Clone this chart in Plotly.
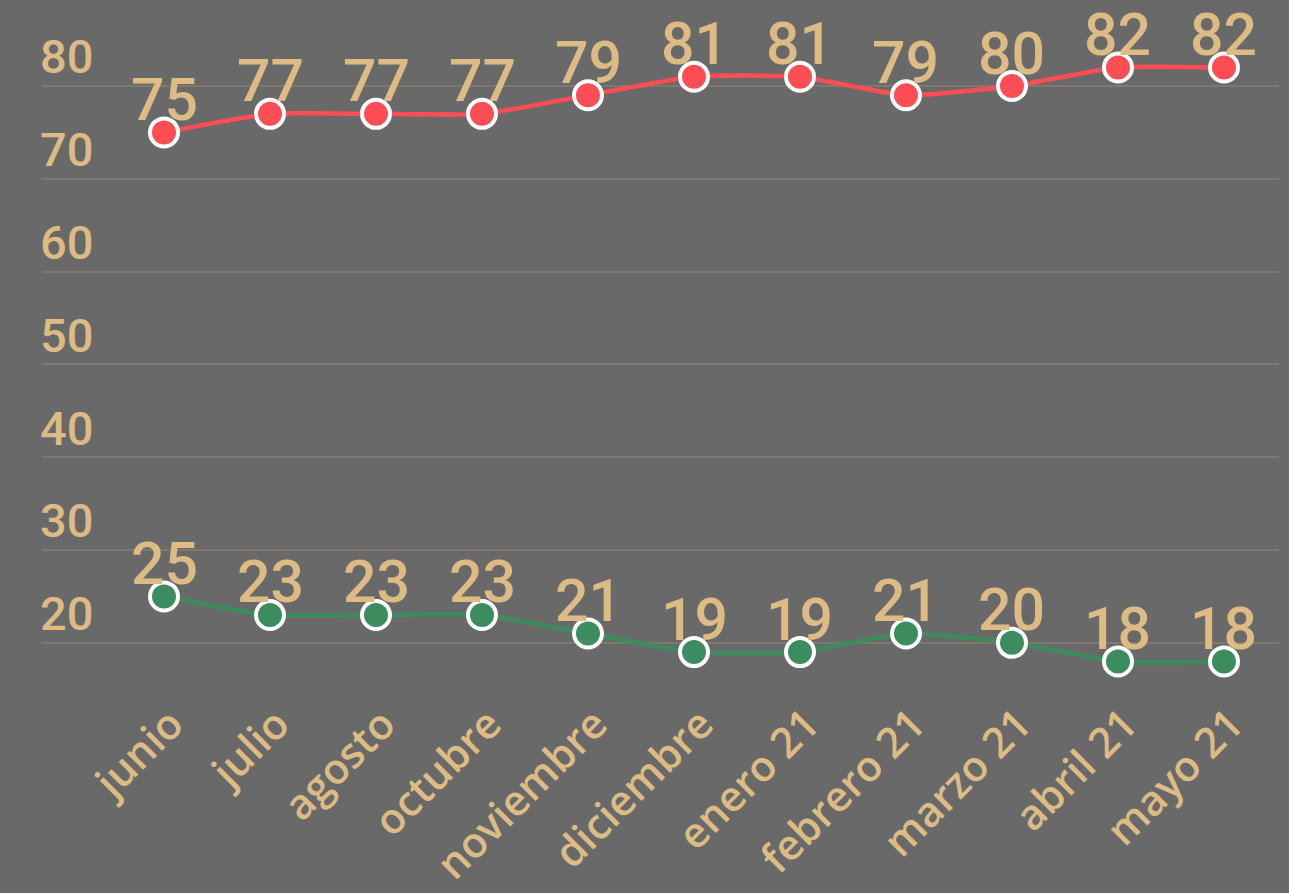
import plotly.graph_objects as go

months = ["junio", "julio", "agosto", "octubre", "noviembre", "diciembre",
          "enero 21", "febrero 21", "marzo 21", "abril 21", "mayo 21"]
red_values = [75, 77, 77, 77, 79, 81, 81, 79, 80, 82, 82]
green_values = [25, 23, 23, 23, 21, 19, 19, 21, 20, 18, 18]
y_ticks = [20, 30, 40, 50, 60, 70, 80]

BG = "#696969"
TAN = "#dcbb85"
GRID = "#80786b"
RED = "#ff4d55"
GREEN = "#3d8c5f"

fig = go.Figure()
for vals, col in [(red_values, RED), (green_values, GREEN)]:
    fig.add_trace(go.Scatter(
        x=list(range(len(months))), y=vals, mode="lines+markers",
        line=dict(color=col, width=4.5, shape="spline", smoothing=0.5),
        marker=dict(size=28, color=col, line=dict(color="white", width=4)),
        hoverinfo="skip", showlegend=False,
    ))
    for i, v in enumerate(vals):
        fig.add_annotation(x=i, y=v, text=str(v), showarrow=False,
                           yanchor="middle", yshift=33,
                           font=dict(family="Roboto", size=59, color=TAN,
                                     weight=500))

fig.update_layout(
    width=1289, height=893,
    paper_bgcolor=BG, plot_bgcolor=BG,
    margin=dict(l=42, r=10, t=0, b=193),
    xaxis=dict(
        range=[-1.151, 10.519], tickmode="array",
        tickvals=list(range(len(months))), ticktext=months,
        tickangle=-45, showgrid=False, zeroline=False, showline=False,
        ticklabelshift=7, ticklabelstandoff=-10, automargin=False,
        tickfont=dict(family="Open Sans", size=42, color=TAN, weight=600),
    ),
    yaxis=dict(
        range=[13.84, 89.27], tickmode="array", tickvals=y_ticks,
        ticktext=[str(t) for t in y_ticks], automargin=False,
        showgrid=True, gridcolor=GRID, gridwidth=2, zeroline=False,
        showline=False, ticklabelposition="inside", ticklabelshift=-29,
        ticklabelstandoff=-5,
        tickfont=dict(family="Roboto", size=47, color=TAN, weight=500),
    ),
)
fig.write_html("out.html", config={"displayModeBar": False},
               post_script="document.body.style.margin='0';"
                           "document.body.style.background='#696969';")
